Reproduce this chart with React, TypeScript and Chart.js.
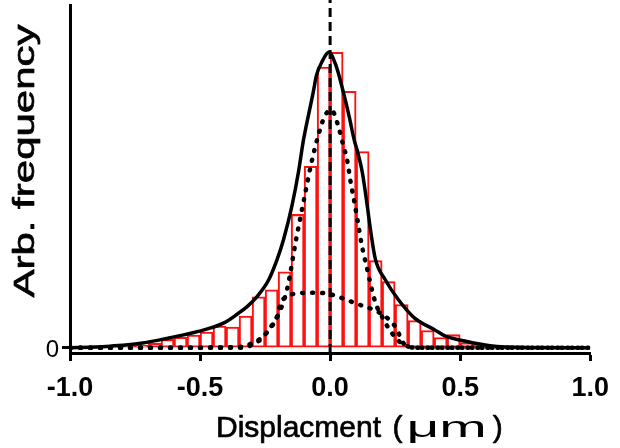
import React, { useEffect, useRef } from "react";
import { Chart, registerables } from "chart.js";

Chart.register(...registerables);

// Histogram bin centres (µm) and heights (arbitrary units)
const binCenters = [
  -0.975, -0.925, -0.875, -0.825, -0.775, -0.725, -0.675, -0.625, -0.575, -0.525,
  -0.475, -0.425, -0.375, -0.325, -0.275, -0.225, -0.175, -0.125, -0.075, -0.025,
  0.025, 0.075, 0.125, 0.175, 0.225, 0.275, 0.325, 0.375, 0.425, 0.475,
  0.525, 0.575, 0.625, 0.675, 0.725, 0.775, 0.825, 0.875, 0.925, 0.975,
];
const histValues = [
  0.5, 0.5, 0.5, 0.6, 0.6, 0.8, 1.5, 2.8, 3.5, 4.3,
  5.3, 7.3, 7.0, 10.7, 17.2, 19.6, 25.7, 45.1, 61.4, 95,
  100, 86.8, 66.4, 29.5, 22.4, 14.6, 9.2, 5.8, 3.4, 4.4,
  1.7, 1.0, 0.7, 0.6, 0.6, 0.5, 0.5, 0.5, 0.5, 0.5,
];

// Total fit (solid)
const fitX = [
  -1, -0.9, -0.847, -0.721, -0.62, -0.507, -0.406, -0.355, -0.318, -0.28,
  -0.236, -0.204, -0.179, -0.147, -0.122, -0.103, -0.084, -0.065, -0.053, -0.03,
  -0.005, 0.023, 0.048, 0.073, 0.092, 0.105, 0.124, 0.143, 0.155, 0.174,
  0.212, 0.262, 0.325, 0.401, 0.439, 0.526, 0.615, 0.741, 1,
];
const fitY = [
  0, 0.2, 0.5, 1.6, 3.3, 5.5, 8.5, 11.5, 14, 17.4,
  23, 29.8, 36.6, 47.9, 59.3, 70, 78.4, 86.4, 92, 97,
  100, 95.4, 87.5, 78.4, 70.5, 66.5, 59.2, 47.9, 40, 30,
  23, 16.3, 10, 6.1, 4.1, 2.1, 0.7, 0.1, 0,
];

// Narrow component (dotted)
const narrowX = [
  -1, -0.6, -0.36, -0.3, -0.25, -0.2, -0.165, -0.13, -0.103, -0.072,
  -0.045, -0.02, 0.005, 0.028, 0.048, 0.067, 0.079, 0.092, 0.105, 0.12,
  0.143, 0.174, 0.199, 0.237, 0.287, 0.35, 1,
];
const narrowY = [
  0, 0, 0.2, 1.5, 4.5, 11, 20, 37, 49, 62.5,
  72, 78.5, 80.5, 76, 69.4, 62.7, 56, 50, 43.4, 35.5,
  26.4, 15.3, 10.6, 5, 0.8, 0, 0,
];

// Broad component (dotted)
const broadX = [
  -1, -0.5, -0.34, -0.318, -0.29, -0.268, -0.23, -0.204, -0.19, -0.17,
  -0.13, -0.07, -0.02, 0.02, 0.06, 0.111, 0.165, 0.212, 0.25, 0.287,
  0.33, 0.5, 1,
];
const broadY = [
  0, 0, 0, 0.3, 1.5, 2.7, 6.8, 10.6, 15, 17.2,
  18.3, 18.6, 18.4, 17.6, 16.3, 14.6, 12.9, 10.6, 7.2, 1,
  0, 0, 0,
];

// Vertical reference line at 0
const refLineX = [0, 0];
const refLineY = [-1.8, 117.8];

const xTickValues = [-1, -0.5, 0, 0.5, 1];
const xTickLabels = ["-1.0", "-0.5", "0.0", "0.5", "1.0"];
const yTickValues = [0];
const yTickLabels = ["0"];

const xTitleMain = "Displacment";
const xTitleOpen = "(";
const xTitleUnit = "μm";
const xTitleClose = ")";
const yTitle = "Arb. frequency";

const FONT = "'Liberation Sans', Arial, Helvetica, sans-serif";

const zip = (xs: number[], ys: number[]) => xs.map((x, i) => ({ x, y: ys[i] }));

function heavyText(ctx: CanvasRenderingContext2D, t: string, x: number, y: number) {
  ctx.fillText(t, x, y);
  ctx.strokeText(t, x, y);
}

const titlesPlugin = {
  id: "axisTitles",
  afterDraw(chart: any) {
    const ctx = chart.ctx as CanvasRenderingContext2D;
    const area = chart.chartArea;
    ctx.save();
    ctx.fillStyle = "#000";
    ctx.strokeStyle = "#000";
    ctx.lineWidth = 0.7;
    ctx.lineJoin = "round";
    // x-axis title
    ctx.font = `30px ${FONT}`;
    ctx.textAlign = "left";
    ctx.textBaseline = "alphabetic";
    let cx = area.left + 146;
    const by = area.bottom + 84;
    heavyText(ctx, xTitleMain, cx, by);
    cx += ctx.measureText(xTitleMain + " ").width + 3;
    heavyText(ctx, xTitleOpen, cx, by);
    cx += ctx.measureText(xTitleOpen).width + 4;
    ctx.save();
    ctx.translate(cx, by);
    ctx.scale(1.9, 1);
    ctx.fillText(xTitleUnit, 0, 0);
    ctx.restore();
    cx += ctx.measureText(xTitleUnit).width * 1.9 + 6;
    heavyText(ctx, xTitleClose, cx, by);
    // y-axis title
    ctx.save();
    ctx.translate(area.left - 44, area.top + 156);
    ctx.rotate(-Math.PI / 2);
    ctx.scale(1.4, 1);
    ctx.font = `30px ${FONT}`;
    ctx.textAlign = "center";
    ctx.textBaseline = "middle";
    heavyText(ctx, yTitle, 0, 0);
    ctx.restore();
    ctx.restore();
  },
};

export default function App() {
  const ref = useRef<HTMLCanvasElement | null>(null);

  useEffect(() => {
    if (!ref.current) return;
    const dotted = {
      borderColor: "#000",
      borderWidth: 4.5,
      borderDash: [1, 9],
      borderCapStyle: "round",
      pointRadius: 0,
      cubicInterpolationMode: "monotone",
      fill: false,
    };
    const chart = new Chart(ref.current, {
      type: "line",
      plugins: [titlesPlugin],
      data: {
        datasets: [
          {
            type: "bar",
            data: zip(binCenters, histValues),
            backgroundColor: "rgba(255,255,255,0)",
            borderColor: "#ff1010",
            borderWidth: 1.4,
            borderSkipped: false,
            barPercentage: 1,
            categoryPercentage: 1,
            order: 5,
          } as any,
          { ...dotted, data: zip(broadX, broadY), order: 3 } as any,
          { ...dotted, data: zip(narrowX, narrowY), order: 2 } as any,
          {
            data: zip(refLineX, refLineY),
            borderColor: "#000",
            borderWidth: 3,
            borderDash: [9, 5],
            pointRadius: 0,
            fill: false,
            clip: false,
            order: 1,
          } as any,
          {
            data: zip(fitX, fitY),
            borderColor: "#000",
            borderWidth: 3.5,
            pointRadius: 0,
            cubicInterpolationMode: "monotone",
            fill: false,
            order: 0,
          },
        ],
      },
      options: {
        animation: false,
        responsive: false,
        layout: { padding: { top: 5, right: 22, left: 0, bottom: 0 } },
        plugins: { legend: { display: false }, tooltip: { enabled: false } },
        scales: {
          x: {
            type: "linear",
            min: -1,
            max: 1,
            offset: false,
            afterFit: (s: any) => {
              s.height = 95;
            },
            afterBuildTicks: (s: any) => {
              s.ticks = xTickValues.map((v) => ({ value: v }));
            },
            ticks: {
              autoSkip: false,
              maxRotation: 0,
              color: "#000",
              padding: 11,
              font: { family: FONT, size: 27, weight: "bold" },
              callback: (v: any) => {
                const i = xTickValues.indexOf(Number(v));
                return i >= 0 ? xTickLabels[i] : "";
              },
            },
            grid: {
              offset: false,
              drawOnChartArea: false,
              tickLength: 8,
              tickWidth: 3,
              tickColor: "#000",
            },
            border: { display: true, color: "#000", width: 3 },
            title: { display: false },
          },
          y: {
            type: "linear",
            min: -1.8,
            max: 116,
            afterFit: (s: any) => {
              s.width = 70;
              s.paddingTop = 0;
              s.paddingBottom = 0;
            },
            afterBuildTicks: (s: any) => {
              s.ticks = yTickValues.map((v) => ({ value: v }));
            },
            ticks: {
              color: "#000",
              padding: 3,
              labelOffset: 3,
              font: { family: FONT, size: 24 },
              callback: (v: any) => {
                const i = yTickValues.indexOf(Number(v));
                return i >= 0 ? yTickLabels[i] : "";
              },
            },
            grid: {
              drawOnChartArea: false,
              tickLength: 8,
              tickWidth: 3,
              tickColor: "#000",
            },
            border: { display: true, color: "#000", width: 3 },
            title: { display: false },
          },
        },
      },
    });
    return () => chart.destroy();
  }, []);

  return (
    <div style={{ position: "fixed", left: 0, top: 0, width: 620, height: 448, background: "#fff" }}>
      <canvas ref={ref} width={620} height={448} style={{ width: 620, height: 448, display: "block" }} />
    </div>
  );
}
